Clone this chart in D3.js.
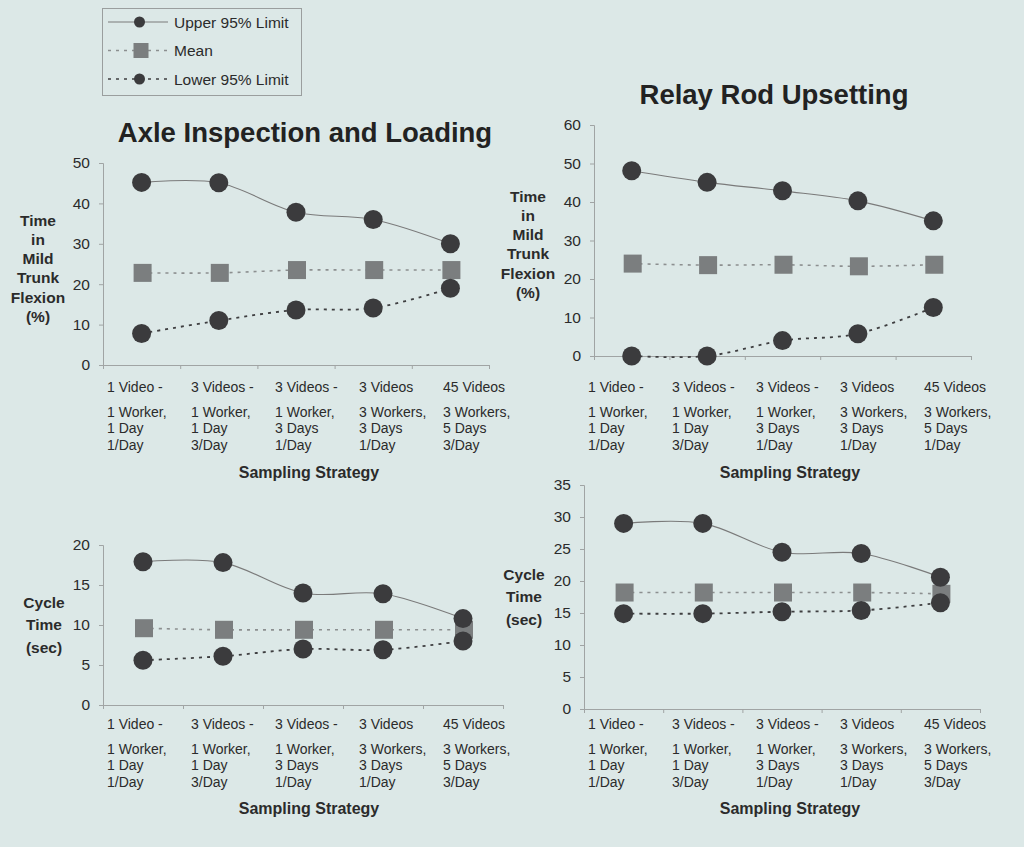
<!DOCTYPE html>
<html>
<head>
<meta charset="utf-8">
<script src="https://cdn.jsdelivr.net/npm/d3@7"></script>
<style>
  body { margin: 0; background: #dce8e7; }
  svg { display: block; font-family: "Liberation Sans", Arial, sans-serif; }
</style>
</head>
<body>
<script>
// categories (x labels, 4 text rows)
var catLine1 = ["1 Video -", "3 Videos -", "3 Videos -", "3 Videos", "45 Videos"];
var catLine2 = ["1 Worker,", "1 Worker,", "1 Worker,", "3 Workers,", "3 Workers,"];
var catLine3 = ["1 Day", "1 Day", "3 Days", "3 Days", "5 Days"];
var freqA = ["1/Day", "3/Day", "1/Day", "1/Day", "3/Day"];
var freqB = ["1/Day", "3/Day", "1/Day", "1/Day", "1/Day"];

// series values
var axleFlexUpper = [45.2, 45.1, 37.8, 36.0, 30.0];
var axleFlexMean  = [22.8, 22.8, 23.5, 23.5, 23.5];
var axleFlexLower = [7.8, 11.0, 13.6, 14.1, 19.0];

var relayFlexUpper = [48.1, 45.1, 42.9, 40.3, 35.1];
var relayFlexMean  = [24.0, 23.6, 23.7, 23.3, 23.7];
var relayFlexLower = [0, 0, 4.0, 5.8, 12.6];

var axleCycleUpper = [17.9, 17.8, 14.0, 13.9, 10.8];
var axleCycleMean  = [9.6, 9.4, 9.4, 9.4, 9.4];
var axleCycleLower = [5.6, 6.1, 7.0, 6.9, 8.0];

var relayCycleUpper = [29.0, 29.0, 24.5, 24.3, 20.6];
var relayCycleMean  = [18.2, 18.2, 18.2, 18.2, 18.0];
var relayCycleLower = [14.9, 14.9, 15.2, 15.4, 16.6];

var legendLabels = ["Upper 95% Limit", "Mean", "Lower 95% Limit"];
var flexTitle = ["Time", "in", "Mild", "Trunk", "Flexion", "(%)"];
var cycleTitle = ["Cycle", "Time", "(sec)"];

var width = 1024, height = 847;
var textColor = "#2b2b2b";

var svg = d3.select("body")
  .append("svg")
    .attr("width", width)
    .attr("height", height);

svg.append("rect").attr("width", width).attr("height", height).attr("fill", "#dce8e7");

// layout of each panel
var panels = [
  {title: "Axle Inspection and Loading", tx: 305, ty: 142,
   x0: 103, x1: 489, y0: 365, y1: 163, max: 50, step: 10,
   lab0: 107, rowY: 387, freq: freqA, xtY: 472, xtX: 309,
   yTitle: flexTitle, ytX: 38, ytY: 220, ytGap: 19.3,
   upper: axleFlexUpper, mean: axleFlexMean, lower: axleFlexLower},
  {title: "Relay Rod Upsetting", tx: 774, ty: 104,
   x0: 594, x1: 971, y0: 356, y1: 125, max: 60, step: 10,
   lab0: 588, rowY: 387, freq: freqB, xtY: 472, xtX: 790,
   yTitle: flexTitle, ytX: 528, ytY: 196, ytGap: 19.3,
   upper: relayFlexUpper, mean: relayFlexMean, lower: relayFlexLower},
  {title: null,
   x0: 103, x1: 503, y0: 705, y1: 545, max: 20, step: 5,
   lab0: 107, rowY: 724, freq: freqA, xtY: 808, xtX: 309,
   yTitle: cycleTitle, ytX: 44, ytY: 602, ytGap: 22.5,
   upper: axleCycleUpper, mean: axleCycleMean, lower: axleCycleLower},
  {title: null,
   x0: 584, x1: 980, y0: 709, y1: 485, max: 35, step: 5,
   lab0: 588, rowY: 724, freq: freqA, xtY: 808, xtX: 790,
   yTitle: cycleTitle, ytX: 524, ytY: 574, ytGap: 22.5,
   upper: relayCycleUpper, mean: relayCycleMean, lower: relayCycleLower}
];

var styles = {
  upper: {stroke: "#7a7a7a", width: 1.1, dash: null},
  mean:  {stroke: "#8c8f90", width: 1.6, dash: "3,5"},
  lower: {stroke: "#3e3e40", width: 1.8, dash: "3,5"}
};

panels.forEach(function(p) {
  var g = svg.append("g");

  var x = d3.scaleBand().domain(d3.range(5)).range([p.x0, p.x1]);
  var xb = d3.scaleLinear().domain([0, 5]).range([p.x0, p.x1]);
  var y = d3.scaleLinear().domain([0, p.max]).range([p.y0, p.y1]);

  // y axis
  var ya = g.append("g")
    .attr("transform", "translate(" + p.x0 + ",0)")
    .call(d3.axisLeft(y).tickValues(d3.range(0, p.max + 0.1, p.step)).tickSizeOuter(0).tickSize(4).tickPadding(9));
  ya.selectAll("text").style("font-size", "15.5px").attr("fill", textColor);
  ya.selectAll("path,line").attr("stroke", "#a0a4a4");

  // x axis, ticks on band edges
  var xa = g.append("g")
    .attr("transform", "translate(0," + p.y0 + ")")
    .call(d3.axisBottom(xb).ticks(5).tickFormat("").tickSizeOuter(0).tickSize(4));
  xa.selectAll("path,line").attr("stroke", "#a0a4a4");

  // category labels
  var labX = d3.scaleLinear().domain([0, 1]).range([p.lab0, p.lab0 + 84]);
  var rows = [catLine1, catLine2, catLine3, p.freq];
  var rowOff = [0, 24.5, 41.2, 58];
  rows.forEach(function(row, ri) {
    g.selectAll(null).data(row).enter().append("text")
      .attr("x", function(d, i) { return labX(i); })
      .attr("y", p.rowY + rowOff[ri] + 5)
      .style("font-size", "14px")
      .attr("fill", textColor)
      .text(function(d) { return d; });
  });

  // axis titles
  g.append("text")
    .attr("x", p.xtX).attr("y", p.xtY + 5.5)
    .attr("text-anchor", "middle")
    .style("font-size", "16px").style("font-weight", "bold")
    .attr("fill", textColor)
    .text("Sampling Strategy");

  g.selectAll(null).data(p.yTitle).enter().append("text")
    .attr("x", p.ytX)
    .attr("y", function(d, i) { return p.ytY + i * p.ytGap + 5.5; })
    .attr("text-anchor", "middle")
    .style("font-size", "15.5px").style("font-weight", "bold")
    .attr("fill", textColor)
    .text(function(d) { return d; });

  if (p.title) {
    g.append("text")
      .attr("x", p.tx).attr("y", p.ty)
      .attr("text-anchor", "middle")
      .style("font-size", "27.5px").style("font-weight", "bold")
      .attr("fill", "#222")
      .text(p.title);
  }

  // lines (smoothed like the original)
  var line = d3.line()
    .x(function(d, i) { return x(i) + x.bandwidth() / 2; })
    .y(function(d) { return y(d); })
    .curve(d3.curveCatmullRom.alpha(0));

  ["upper", "mean", "lower"].forEach(function(k) {
    g.append("path")
      .datum(p[k])
      .attr("d", line)
      .attr("fill", "none")
      .attr("stroke", styles[k].stroke)
      .attr("stroke-width", styles[k].width)
      .attr("stroke-dasharray", styles[k].dash);
  });

  // markers
  g.selectAll(null).data(p.mean).enter().append("rect")
    .attr("x", function(d, i) { return x(i) + x.bandwidth() / 2 - 9 + 1; })
    .attr("y", function(d) { return y(d) - 9; })
    .attr("width", 18).attr("height", 18)
    .attr("fill", "#7b7e7f");

  [p.upper, p.lower].forEach(function(s) {
    g.selectAll(null).data(s).enter().append("circle")
      .attr("cx", function(d, i) { return x(i) + x.bandwidth() / 2; })
      .attr("cy", function(d) { return y(d); })
      .attr("r", 9.5)
      .attr("fill", "#3b3b3d");
  });
});

// legend
var legend = svg.append("g");
legend.append("rect")
  .attr("x", 102.5).attr("y", 8.5).attr("width", 199).attr("height", 87)
  .attr("fill", "none").attr("stroke", "#9a9e9e");

var legY = d3.scalePoint().domain(legendLabels).range([22, 79]);
var legKeys = ["upper", "mean", "lower"];
legendLabels.forEach(function(lab, i) {
  var k = legKeys[i], yy = legY(lab);
  legend.append("line")
    .attr("x1", 108).attr("x2", 168).attr("y1", yy).attr("y2", yy)
    .attr("stroke", styles[k].stroke)
    .attr("stroke-width", k == "upper" ? 1 : 1.5)
    .attr("stroke-dasharray", styles[k].dash);
  if (k == "mean") {
    legend.append("rect").attr("x", 133.5).attr("y", yy - 7.5).attr("width", 15).attr("height", 15).attr("fill", "#7b7e7f");
  } else {
    legend.append("circle").attr("cx", 139.5).attr("cy", yy).attr("r", 5.5).attr("fill", "#3b3b3d");
  }
  legend.append("text")
    .attr("x", 174).attr("y", yy + 5.5)
    .style("font-size", "15.5px")
    .attr("fill", textColor)
    .text(lab);
});
</script>
</body>
</html>
